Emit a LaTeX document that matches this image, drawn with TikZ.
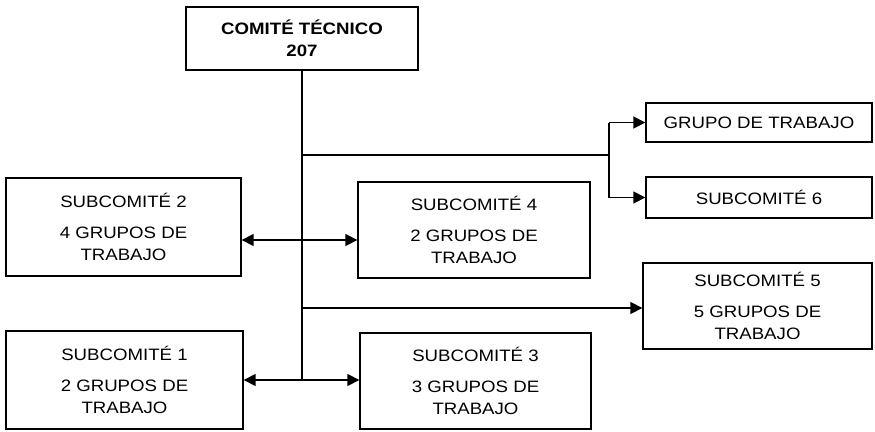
\documentclass[tikz,border=0pt]{standalone}
\usepackage{fontspec}
\setmainfont{Liberation Sans}[FakeStretch=1.13]
\usetikzlibrary{arrows.meta}
\begin{document}
\begin{tikzpicture}[x=1pt,y=-1pt,
  box/.style={draw,line width=1.4pt,inner sep=0pt,align=center,
    font=\fontsize{16.5}{22}\selectfont},
  conn/.style={line width=1.7pt},
  arr/.style={line width=1.7pt,-{Triangle[length=12pt,width=12pt]}}]
\useasboundingbox (0,0) rectangle (875,431);
\node[box,minimum width=232pt,minimum height=63pt,font=\fontsize{16.5}{22}\selectfont\bfseries] (ct) at (302,38.5) {COMITÉ TÉCNICO\\207};
\node[box,minimum width=235pt,minimum height=98pt] (s2) at (123.5,227) {SUBCOMITÉ 2\\[9pt]4 GRUPOS DE\\TRABAJO};
\node[box,minimum width=232pt,minimum height=96pt] (s4) at (474,230) {SUBCOMITÉ 4\\[9pt]2 GRUPOS DE\\TRABAJO};
\node[box,minimum width=237pt,minimum height=98pt] (s1) at (124.5,380) {SUBCOMITÉ 1\\[9pt]2 GRUPOS DE\\TRABAJO};
\node[box,minimum width=231pt,minimum height=96pt] (s3) at (475.5,381) {SUBCOMITÉ 3\\[9pt]3 GRUPOS DE\\TRABAJO};
\node[box,minimum width=229pt,minimum height=86pt] (s5) at (757.5,306) {SUBCOMITÉ 5\\[9pt]5 GRUPOS DE\\TRABAJO};
\node[box,minimum width=226pt,minimum height=39pt] (gt) at (759,122.5) {GRUPO DE TRABAJO};
\node[box,minimum width=226pt,minimum height=41pt] (s6) at (759,197.5) {SUBCOMITÉ 6};
\coordinate (j6) at (302,155);
\coordinate (j2) at (302,240);
\coordinate (j5) at (302,308);
\coordinate (j1) at (302,380);
\coordinate (k) at (609,155);
\coordinate (ka) at (609,122.5);
\coordinate (kb) at (609,197.5);
\draw[conn] (ct.south) -- (j1);
\draw[arr] (j2) -- (j2 -| s2.east);
\draw[arr] (j2) -- (j2 -| s4.west);
\draw[arr] (j1) -- (j1 -| s1.east);
\draw[arr] (j1) -- (j1 -| s3.west);
\draw[arr] (j5) -- (j5 -| s5.west);
\draw[conn] (j6) -- (k);
\draw[conn] (ka) -- (kb);
\draw[arr] (ka) -- (gt.west);
\draw[arr] (kb) -- (s6.west);
\end{tikzpicture}
\end{document}
